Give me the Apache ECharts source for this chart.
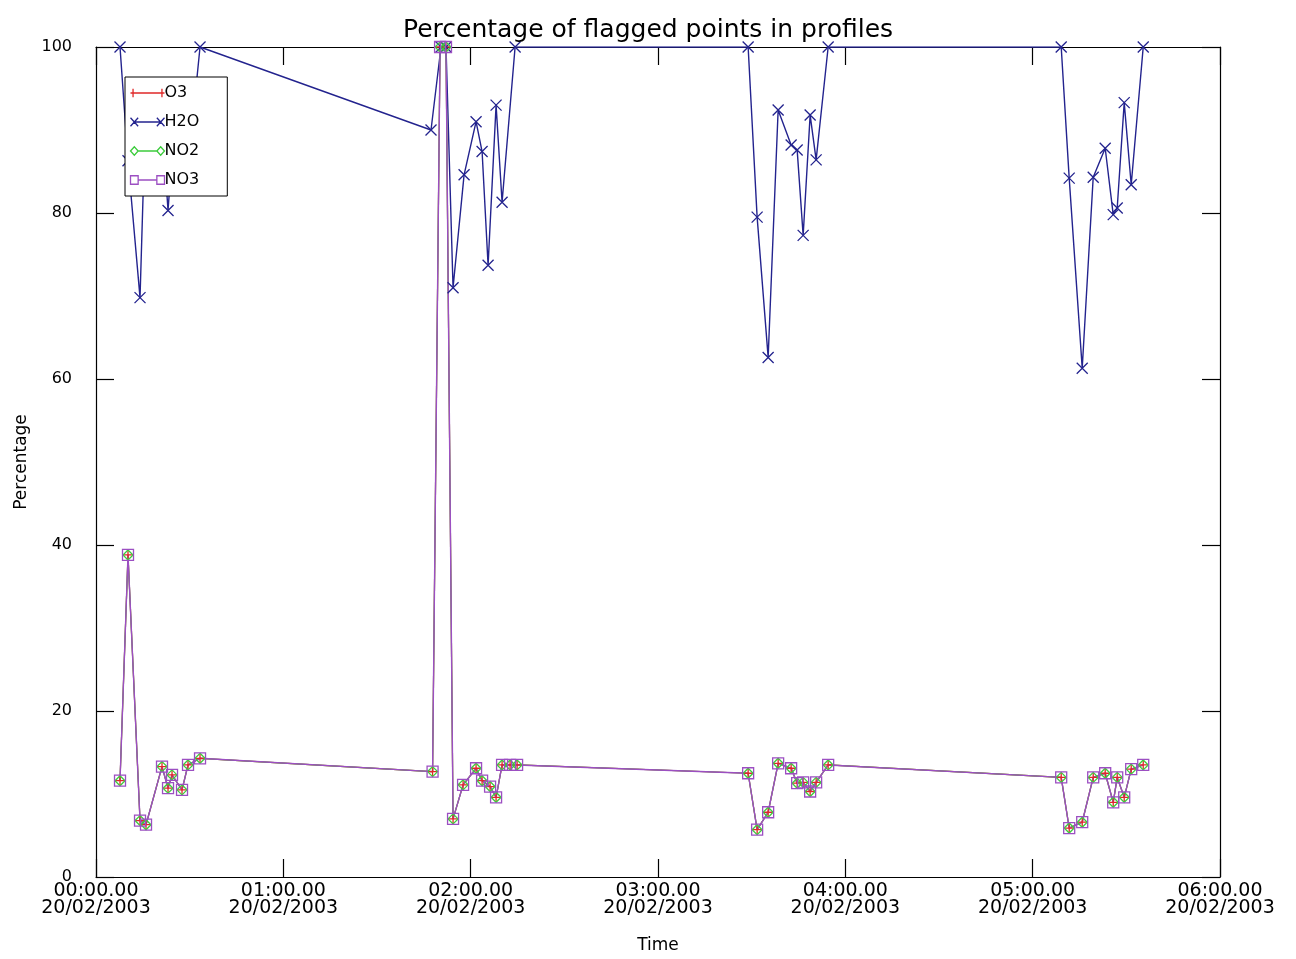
<!DOCTYPE html>
<html>
<head>
<meta charset="utf-8">
<script src="https://cdn.jsdelivr.net/npm/echarts@6/dist/echarts.min.js"></script>
<style>
html,body{margin:0;padding:0;background:#fff;}
#chart{width:1296px;height:959px;}
</style>
</head>
<body>
<div id="chart"></div>
<script>
// Time in minutes after 00:00 on 20/02/2003
const timesH2O = [7.69, 10.25, 14.10, 16.02, 21.14, 23.07, 24.35, 27.55, 29.47, 33.32,
  107.3, 110.5, 112.1, 114.36, 117.89, 121.73, 123.66, 125.58, 128.14, 130.06, 134.23,
  208.87, 211.75, 215.28, 218.48, 222.64, 224.57, 226.49, 228.73, 230.65, 234.50,
  309.14, 311.70, 315.87, 319.39, 323.23, 325.80, 327.08, 329.32, 331.56, 335.41];
const h2oValues = [100, 86.3, 69.8, 94, 91, 80.3, 87, 90, 85.5, 100,
  90.0, 100, 100, 71.0, 84.6, 91.0, 87.4, 73.7, 93.0, 81.3, 100,
  100, 79.5, 62.6, 92.4, 88.2, 87.6, 77.3, 91.8, 86.4, 100,
  100, 84.2, 61.3, 84.3, 87.8, 79.8, 80.6, 93.3, 83.4, 100];

const timesProfiles = [7.69, 10.25, 14.10, 16.02, 21.14, 23.07, 24.35, 27.55, 29.47, 33.32,
  107.8, 110.2, 112.1, 114.36, 117.57, 121.73, 123.66, 126.22, 128.14, 130.06, 132.62, 134.87,
  208.87, 211.75, 215.28, 218.48, 222.64, 224.57, 226.49, 228.73, 230.65, 234.50,
  309.14, 311.70, 315.87, 319.39, 323.23, 325.80, 327.08, 329.32, 331.56, 335.41];
const o3Values = [11.6, 38.8, 6.8, 6.3, 13.3, 10.7, 12.3, 10.5, 13.5, 14.3,
  12.7, 100, 100, 7.0, 11.1, 13.1, 11.6, 10.9, 9.6, 13.5, 13.5, 13.5,
  12.5, 5.7, 7.8, 13.7, 13.1, 11.3, 11.4, 10.3, 11.4, 13.5,
  12.0, 5.9, 6.6, 12.0, 12.5, 9.0, 12.0, 9.6, 13.0, 13.5];
const no2Values = o3Values.slice();
const no3Values = o3Values.slice();

const yTicks = [0, 20, 40, 60, 80, 100];
const xTickHours = ['00', '01', '02', '03', '04', '05', '06'];
const dateLabel = '20/02/2003';

function pairs(t, v) { return t.map((x, i) => [x, v[i]]); }

const FONT = 'DejaVu Sans';
const chart = echarts.init(document.getElementById('chart'));

const C_O3 = '#e02828', C_H2O = '#23238e', C_NO2 = '#3ccc3c', C_NO3 = '#9c4fc2';

const plusPath = 'path://M0,5L10,5M5,0L5,10';
const crossPath = 'path://M0,0L10,10M10,0L0,10';

const iconO3 = 'path://M0,5L40,5M3,0L3,10M37,0L37,10';
const iconH2O = 'path://M0,0L9,10M9,0L0,10M4.5,5L35.5,5M31,0L40,10M40,0L31,10';
const iconNO2 = 'path://M0,5L4.5,0L9,5L4.5,10ZM9,5L31,5M31,5L35.5,0L40,5L35.5,10Z';
const iconNO3 = 'path://M0,0L9,0L9,10L0,10ZM9,5L31,5M31,0L40,0L40,10L31,10Z';

function seriesDef(name, data, color, symbol, size, lw) {
  return {
    name: name, type: 'line', data: data,
    symbol: symbol, symbolSize: size,
    showSymbol: true,
    lineStyle: { color: color, width: lw },
    itemStyle: { color: 'none', borderColor: color, borderWidth: 1.3 },
    emphasis: { disabled: true },
    animation: false
  };
}

function legendItem(name, icon, color) {
  return { name: name, icon: icon,
    itemStyle: { color: 'none', borderColor: color, borderWidth: 1.3 } };
}

const axisLineStyle = { show: true, onZero: false, lineStyle: { color: '#000', width: 1.2 } };
const tickStyle = { show: true, inside: true, length: 18, lineStyle: { color: '#000', width: 1.2 } };

chart.setOption({
  backgroundColor: '#ffffff',
  animation: false,
  title: {
    text: 'Percentage of flagged points in profiles',
    left: 'center', top: 13,
    textStyle: { fontFamily: FONT, fontSize: 25, fontWeight: 'normal', color: '#000' }
  },
  legend: {
    orient: 'vertical', left: 125, top: 77,
    data: [legendItem('O3', iconO3, C_O3), legendItem('H2O', iconH2O, C_H2O),
           legendItem('NO2', iconNO2, C_NO2), legendItem('NO3', iconNO3, C_NO3)],
    itemWidth: 34, itemHeight: 9, itemGap: 13,
    padding: [8, 28, 8, 3],
    backgroundColor: '#ffffff', borderColor: '#000', borderWidth: 1,
    textStyle: { fontFamily: FONT, fontSize: 16, color: '#000', padding: [0, 0, 0, -5] },
    z: 10
  },
  grid: { left: 96, right: 76, top: 47, bottom: 82 },
  xAxis: [{
    type: 'value', min: 0, max: 360, interval: 60,
    name: 'Time', nameLocation: 'middle', nameGap: 60,
    nameTextStyle: { fontFamily: FONT, fontSize: 17, color: '#000' },
    axisLine: axisLineStyle, axisTick: tickStyle,
    splitLine: { show: false },
    axisLabel: {
      fontFamily: FONT, fontSize: 19, color: '#000', lineHeight: 17, margin: 6,
      formatter: v => xTickHours[Math.round(v / 60)] + ':00.00\n' + dateLabel
    }
  }, {
    type: 'value', position: 'top', min: 0, max: 360, interval: 60,
    axisLine: axisLineStyle, axisTick: tickStyle,
    axisLabel: { show: false }, splitLine: { show: false }
  }],
  yAxis: [{
    type: 'value', min: 0, max: 100, interval: 20,
    name: 'Percentage', nameLocation: 'middle', nameGap: 34, nameRotate: 90,
    nameTextStyle: { fontFamily: FONT, fontSize: 17, color: '#000' },
    axisLine: axisLineStyle, axisTick: tickStyle,
    splitLine: { show: false },
    axisLabel: {
      fontFamily: FONT, fontSize: 16, color: '#000', margin: 24,
      formatter: v => yTicks.includes(v) ? String(v) : ''
    }
  }, {
    type: 'value', position: 'right', min: 0, max: 100, interval: 20,
    axisLine: axisLineStyle, axisTick: tickStyle,
    axisLabel: { show: false }, splitLine: { show: false }
  }],
  series: [
    seriesDef('O3', pairs(timesProfiles, o3Values), C_O3, plusPath, 9, 1.2),
    seriesDef('H2O', pairs(timesH2O, h2oValues), C_H2O, crossPath, 11, 1.4),
    seriesDef('NO2', pairs(timesProfiles, no2Values), C_NO2, 'diamond', 10, 1.2),
    seriesDef('NO3', pairs(timesProfiles, no3Values), C_NO3, 'rect', 11, 1.4)
  ]
});
</script>
</body>
</html>
